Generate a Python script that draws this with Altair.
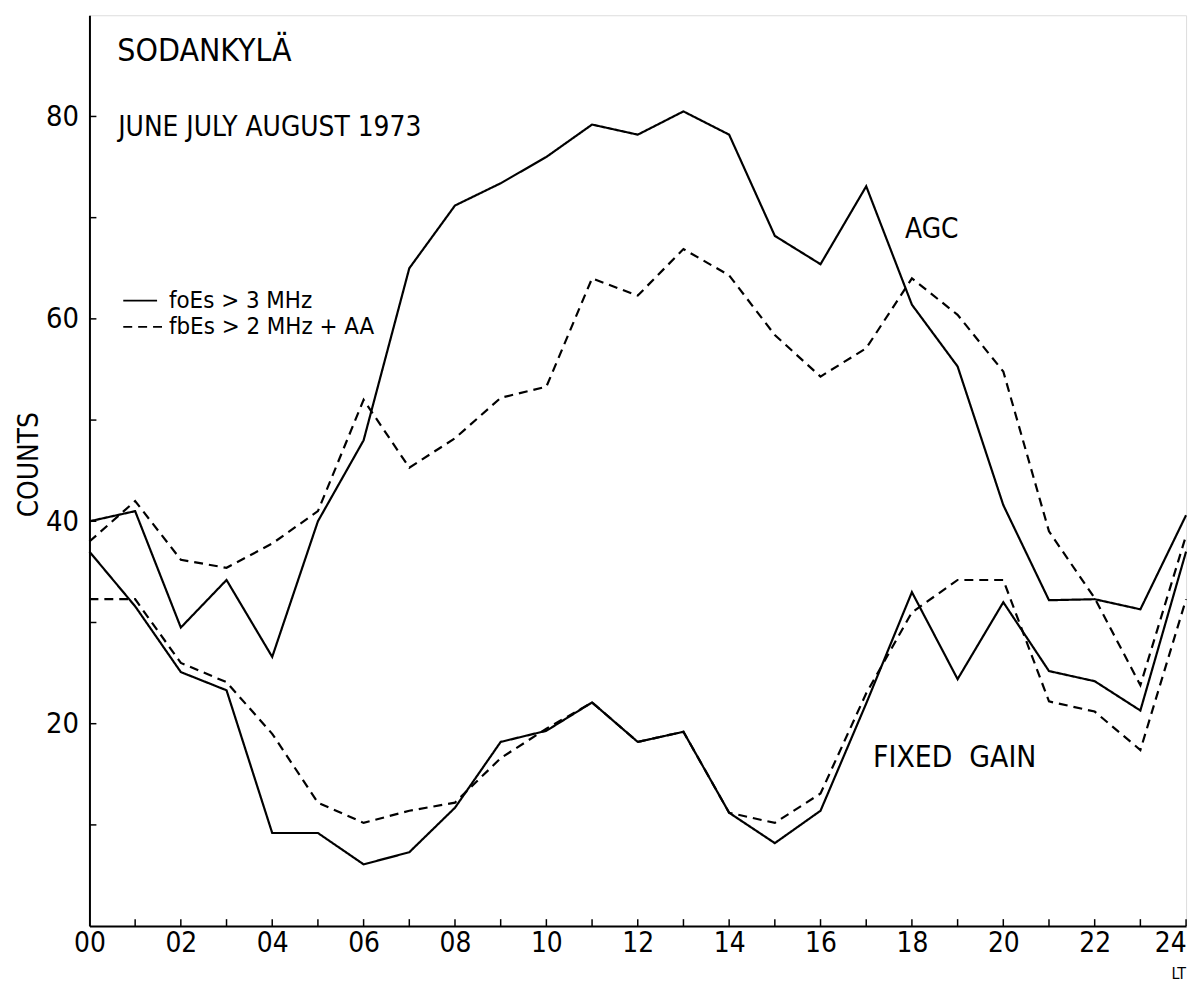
import altair as alt
import pandas as pd

# ---- data ----
hours = list(range(25))
agc_foes = [40, 41, 29.5, 34.2, 26.6, 40, 48, 65, 71.2, 73.4, 76, 79.2, 78.2, 80.5,
            78.2, 68.2, 65.4, 73.1, 61.4, 55.3, 41.6, 32.2, 32.3, 31.3, 40.6]
agc_fbes = [38, 42, 36.2, 35.4, 37.8, 41, 52, 45.3, 48.2, 52.2, 53.3, 64, 62.3, 66.9,
            64.3, 58.4, 54.3, 57.1, 64, 60.4, 54.8, 39, 32.4, 23.8, 38.6]
fg_foes = [37, 31.6, 25.1, 23.3, 9.2, 9.2, 6.1, 7.3, 11.7, 18.2, 19.3, 22.1, 18.2, 19.2,
           11.2, 8.2, 11.4, 22, 33, 24.4, 32, 25.2, 24.2, 21.3, 37]
fg_fbes = [32.3, 32.3, 26, 24.1, 19, 12.2, 10.2, 11.4, 12.2, 16.6, 19.5, 22.1, 18.2, 19.2,
           11.2, 10.2, 13.1, 23, 31, 34.2, 34.2, 22.2, 21.2, 17.4, 32.3]
x_tick_values = list(range(0, 25, 2))
y_tick_values = [20, 40, 60, 80]
y_minor_values = [10, 20, 30, 40, 50, 60, 70, 80]
criteria = ["foEs", "fbEs"]

FONT = "DejaVu Sans Condensed, Liberation Sans Narrow, sans-serif"

rows = []
for grp, crit, vals in [("AGC", "foEs", agc_foes), ("AGC", "fbEs", agc_fbes),
                        ("FIXED", "foEs", fg_foes), ("FIXED", "fbEs", fg_fbes)]:
    for h, v in zip(hours, vals):
        rows.append({"hour": h, "count": v, "group": grp, "criterion": crit,
                     "series": grp + "-" + crit})
df = pd.DataFrame(rows)

xscale = alt.Scale(domain=[0, 24], nice=False, padding=0)
yscale = alt.Scale(domain=[0, 90], nice=False, padding=0)

lines = alt.Chart(df).mark_line(color="black", strokeWidth=2.2).encode(
    x=alt.X("hour:Q", scale=xscale,
            axis=alt.Axis(values=x_tick_values, title=None, ticks=False, grid=False,
                          domainColor="black", domainWidth=2, labelPadding=4,
                          labelFlush=False,
                          labelAlign=alt.condition("datum.value == 24", alt.value("right"),
                                                   alt.value("center")),
                          labelFont=FONT, labelFontSize=28, labelColor="black",
                          labelExpr="datum.value < 10 ? '0' + datum.value : '' + datum.value")),
    y=alt.Y("count:Q", scale=yscale,
            axis=alt.Axis(values=y_tick_values, title="COUNTS", ticks=False, grid=False,
                          domainColor="black", domainWidth=2, labelPadding=11,
                          labelFont=FONT, labelFontSize=29, labelColor="black",
                          titleFont=FONT, titleFontSize=28, titleFontWeight="normal",
                          titleColor="black", titleX=-60, titleY=452, titleAngle=-90,
                          titleAlign="center", titleBaseline="middle")),
    detail="series:N",
    strokeDash=alt.StrokeDash("criterion:N", scale=alt.Scale(domain=criteria, range=[[1, 0], [9, 6]]),
                              legend=None),
)

# inward ticks
xticks = alt.Chart(pd.DataFrame({"hour": hours[1:]})).mark_rule(color="black", strokeWidth=1.5).encode(
    x=alt.X("hour:Q", scale=xscale), y=alt.value(917), y2=alt.value(910))
yticks = alt.Chart(pd.DataFrame({"v": y_minor_values})).mark_rule(color="black", strokeWidth=1.5).encode(
    y=alt.Y("v:Q", scale=yscale), x=alt.value(0), x2=alt.value(7))

# annotations
ann = pd.DataFrame([
    {"t": "SODANKYLÄ", "x": 0.61, "y": 86.5, "s": 32},
    {"t": "JUNE JULY AUGUST 1973", "x": 0.63, "y": 78.9, "s": 28},
    {"t": "AGC", "x": 17.85, "y": 68.8, "s": 28},
    {"t": "FIXED\u00a0\u00a0GAIN", "x": 17.15, "y": 16.6, "s": 30},
])
texts = alt.Chart(ann).mark_text(align="left", baseline="middle", font=FONT, color="black").encode(
    x=alt.X("x:Q", scale=xscale), y=alt.Y("y:Q", scale=yscale), text="t:N",
    size=alt.Size("s:Q", scale=None))

leg_lines = pd.DataFrame([
    {"x": 0.74, "x2": 1.48, "y": 61.8, "criterion": "foEs"},
    {"x": 0.74, "x2": 1.6, "y": 59.2, "criterion": "fbEs"},
])
leg_rules = alt.Chart(leg_lines).mark_rule(color="black", strokeWidth=1.8).encode(
    x=alt.X("x:Q", scale=xscale), x2="x2:Q", y=alt.Y("y:Q", scale=yscale),
    strokeDash=alt.StrokeDash("criterion:N", scale=alt.Scale(domain=criteria, range=[[1, 0], [5, 3]]),
                              legend=None))
leg_text = pd.DataFrame([
    {"t": "foEs > 3 MHz", "x": 1.74, "y": 61.8},
    {"t": "fbEs > 2 MHz + AA", "x": 1.74, "y": 59.2},
])
leg_texts = alt.Chart(leg_text).mark_text(align="left", baseline="middle", font=FONT, fontSize=24,
                                          color="black").encode(
    x=alt.X("x:Q", scale=xscale), y=alt.Y("y:Q", scale=yscale), text="t:N")

lt = alt.Chart(pd.DataFrame({"t": ["LT"]})).mark_text(font=FONT, fontSize=16, color="black",
                                                      baseline="middle", align="right").encode(
    x=alt.datum(24, scale=xscale), y=alt.value(965), text="t:N")

chart = alt.layer(lines, xticks, yticks, texts, leg_rules, leg_texts, lt).properties(
    width=1104, height=917,
    padding={"left": 82, "top": 4, "right": 10, "bottom": 57},
    autosize=alt.AutoSizeParams(type="none"),
).configure_view(stroke=None).configure(background="white")

chart.save("out.html", embed_options={"renderer": "svg", "actions": False})
